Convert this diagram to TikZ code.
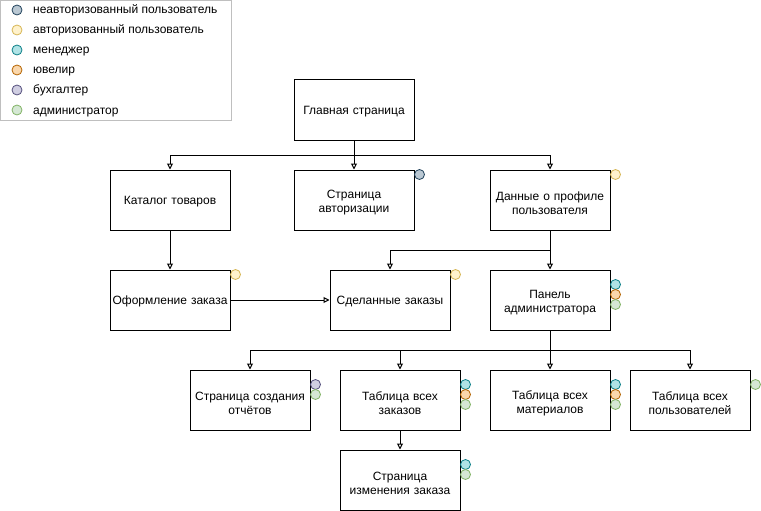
\documentclass[tikz,border=0pt]{standalone}
\usepackage{fontspec}
\setmainfont{Liberation Sans}
\usetikzlibrary{arrows.meta,positioning}

\definecolor{guestfill}{HTML}{BAC8D3}\definecolor{guestline}{HTML}{23445D}
\definecolor{userfill}{HTML}{FFF2CC}\definecolor{userline}{HTML}{D6B656}
\definecolor{managerfill}{HTML}{B0E3E6}\definecolor{managerline}{HTML}{0E8088}
\definecolor{jewelerfill}{HTML}{FAD7AC}\definecolor{jewelerline}{HTML}{B46504}
\definecolor{accountfill}{HTML}{D0CEE2}\definecolor{accountline}{HTML}{56517E}
\definecolor{adminfill}{HTML}{D5E8D4}\definecolor{adminline}{HTML}{82B366}

\begin{document}
\begin{tikzpicture}[%
    x=1pt, y=-1pt,
    >={Triangle[open, length=6pt, width=6pt]},
    font=\fontsize{12}{14}\selectfont,
    page/.style={draw, line width=1pt, minimum width=120pt, minimum height=60pt,
                 text width=116pt, align=center, inner sep=0pt,
                 execute at end node={\endgraf\kern-6pt}},
    dot/.style={circle, line width=0.8pt, minimum size=10pt, inner sep=0pt},
    guest/.style={dot, fill=guestfill, draw=guestline},
    user/.style={dot, fill=userfill, draw=userline},
    manager/.style={dot, fill=managerfill, draw=managerline},
    jeweler/.style={dot, fill=jewelerfill, draw=jewelerline},
    accountant/.style={dot, fill=accountfill, draw=accountline},
    admin/.style={dot, fill=adminfill, draw=adminline},
    legend/.style={anchor=base west, inner sep=0pt},
    link/.style={->, line width=1pt}
  ]
    \useasboundingbox (0,0) rectangle (761,511);

    % legend
    \draw[line width=1pt, black!25] (0.5,0.5) rectangle (231,120);
    \node[guest]      (lg1) at (17,10)  {};
    \node[user]       (lg2) at (17,30)  {};
    \node[manager]    (lg3) at (17,50)  {};
    \node[jeweler]    (lg4) at (17,70)  {};
    \node[accountant] (lg5) at (17,90)  {};
    \node[admin]      (lg6) at (17,110) {};
    \node[legend] (lt1) at (33,14)  {неавторизованный пользователь};
    \node[legend] (lt2) at (33,34)  {авторизованный пользователь};
    \node[legend] (lt3) at (33,54)  {менеджер};
    \node[legend] (lt4) at (33,74)  {ювелир};
    \node[legend] (lt5) at (33,94)  {бухгалтер};
    \node[legend] (lt6) at (33,114) {администратор};

    % pages
    \node[page] (main)    at (354,110) {Главная страница};
    \node[page] (catalog) at (170,200) {Каталог товаров};
    \node[page] (login)   at (354,200) {Страница\\авторизации};
    \node[page] (profile) at (550,200) {Данные о профиле\\пользователя};
    \node[page] (checkout) at (170,300) {Оформление заказа};
    \node[page] (orders)  at (390,300) {Сделанные заказы};
    \node[page] (panel)   at (550,300) {Панель\\администратора};
    \node[page] (reports) at (250,400) {Страница создания\\отчётов};
    \node[page] (allorders) at (400,400) {Таблица всех\\заказов};
    \node[page] (materials) at (550,400) {Таблица всех\\материалов};
    \node[page] (users)   at (690,400) {Таблица всех\\пользователей};
    \node[page] (edit)    at (400,480) {Страница\\изменения заказа};

    % roles
    \node[guest]   at ([shift={(5,5)}]login.north east) {};
    \node[user]    at ([shift={(5,5)}]profile.north east) {};
    \node[user]    at ([shift={(5,5)}]checkout.north east) {};
    \node[user]    at ([shift={(5,5)}]orders.north east) {};
    \node[manager] at ([shift={(5,15)}]panel.north east) {};
    \node[jeweler] at ([shift={(5,25)}]panel.north east) {};
    \node[admin]   at ([shift={(5,35)}]panel.north east) {};
    \node[accountant] at ([shift={(5,15)}]reports.north east) {};
    \node[admin]   at ([shift={(5,25)}]reports.north east) {};
    \node[manager] at ([shift={(5,15)}]allorders.north east) {};
    \node[jeweler] at ([shift={(5,25)}]allorders.north east) {};
    \node[admin]   at ([shift={(5,35)}]allorders.north east) {};
    \node[manager] at ([shift={(5,15)}]materials.north east) {};
    \node[jeweler] at ([shift={(5,25)}]materials.north east) {};
    \node[admin]   at ([shift={(5,35)}]materials.north east) {};
    \node[admin]   at ([shift={(5,15)}]users.north east) {};
    \node[manager] at ([shift={(5,15)}]edit.north east) {};
    \node[admin]   at ([shift={(5,25)}]edit.north east) {};

    % links
    \draw[link] (main.south) -- ++(0,15) -| (catalog.north);
    \draw[link] (main.south) -- (login.north);
    \draw[link] (main.south) -- ++(0,15) -| (profile.north);
    \draw[link] (catalog.south) -- (checkout.north);
    \draw[link] (checkout.east) -- (orders.west);
    \draw[link] (profile.south) -- ++(0,20) -| (orders.north);
    \draw[link] (profile.south) -- (panel.north);
    \draw[link] (panel.south) -- ++(0,20) -| (reports.north);
    \draw[link] (panel.south) -- ++(0,20) -| (allorders.north);
    \draw[link] (panel.south) -- (materials.north);
    \draw[link] (panel.south) -- ++(0,20) -| (users.north);
    \draw[link] (allorders.south) -- (edit.north);
\end{tikzpicture}
\end{document}
